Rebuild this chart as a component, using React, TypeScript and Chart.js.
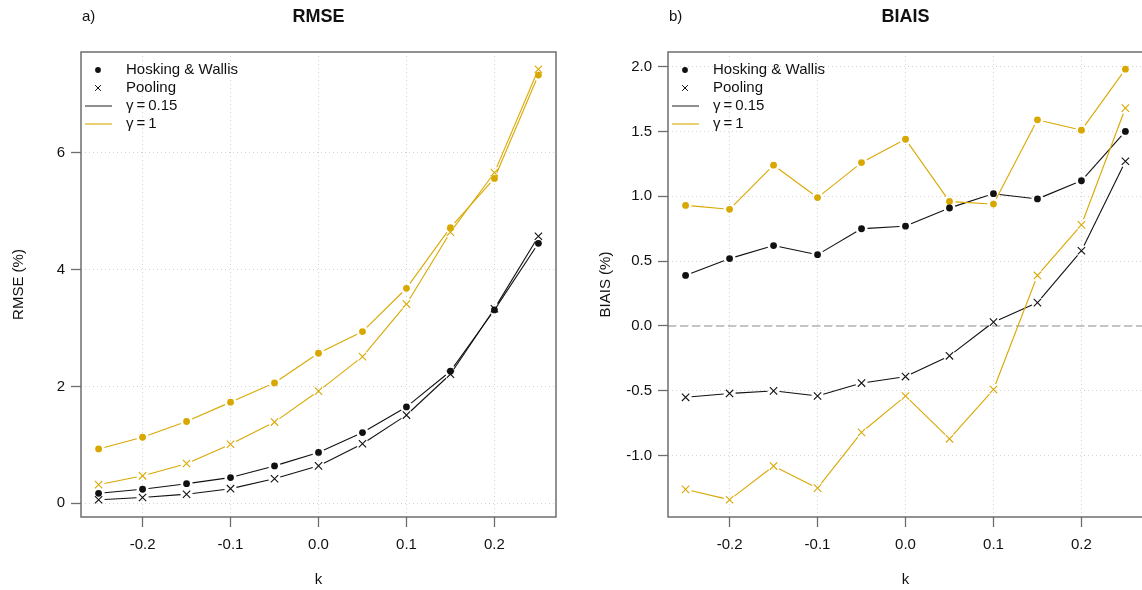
import React, { useEffect, useRef } from "react";
import { Chart, registerables } from "chart.js";

Chart.register(...registerables);

// ---------- data ----------
const kValues = [-0.25, -0.2, -0.15, -0.1, -0.05, 0, 0.05, 0.1, 0.15, 0.2, 0.25];
const kTicks = [-0.2, -0.1, 0, 0.1, 0.2];

const rmseHW015 = [0.17, 0.24, 0.335, 0.44, 0.64, 0.87, 1.21, 1.65, 2.26, 3.31, 4.45];
const rmsePool015 = [0.06, 0.1, 0.155, 0.25, 0.42, 0.64, 1.02, 1.51, 2.21, 3.33, 4.57];
const rmseHW1 = [0.93, 1.13, 1.4, 1.73, 2.06, 2.57, 2.94, 3.68, 4.72, 5.56, 7.33];
const rmsePool1 = [0.32, 0.47, 0.68, 1.01, 1.39, 1.92, 2.51, 3.41, 4.64, 5.66, 7.43];

const biasHW015 = [0.39, 0.52, 0.62, 0.55, 0.75, 0.77, 0.91, 1.02, 0.98, 1.12, 1.5];
const biasPool015 = [-0.55, -0.52, -0.5, -0.54, -0.44, -0.39, -0.23, 0.03, 0.18, 0.58, 1.27];
const biasHW1 = [0.93, 0.9, 1.24, 0.99, 1.26, 1.44, 0.96, 0.94, 1.59, 1.51, 1.98];
const biasPool1 = [-1.26, -1.34, -1.08, -1.25, -0.82, -0.54, -0.87, -0.49, 0.39, 0.78, 1.68];

const rmseTicks = [0, 2, 4, 6];
const biasTicks = [-1, -0.5, 0, 0.5, 1, 1.5, 2];

const legendLabels = ["Hosking & Wallis", "Pooling", "\u03b3\u2009=\u20090.15", "\u03b3\u2009=\u20091"];

const BLACK = "#111111";
const GOLD = "#D9A800";
const FRAME = "#6e6e6e";
const FONT = "'Liberation Sans', Arial, Helvetica, sans-serif";
const GAP = 6;

function pts(ys: number[]) {
  return kValues.map((x, i) => ({ x, y: ys[i] }));
}

function range(arrs: number[][]) {
  const all = arrs.flat();
  const mn = Math.min(...all);
  const mx = Math.max(...all);
  const pad = (mx - mn) * 0.04;
  return [mn - pad, mx + pad];
}

type PanelCfg = {
  letter: string;
  title: string;
  yTitle: string;
  series: number[][]; // HW015, Pool015, HW1, Pool1
  yTicks: number[];
  yFmt: (v: number) => string;
  zeroLine: boolean;
};

function makeChart(canvas: HTMLCanvasElement, cfg: PanelCfg) {
  const [ymin, ymax] = range(cfg.series);
  const xpad = (kValues[kValues.length - 1] - kValues[0]) * 0.04;

  const mk = (label: string, ys: number[], color: string, style: string) => ({
    label,
    data: pts(ys),
    showLine: false,
    lineColor: color,
    pointStyle: style,
    pointRadius: style === "circle" ? 3.4 : 5.2,
    pointBackgroundColor: style === "circle" ? color : "transparent",
    pointBorderColor: color,
    pointBorderWidth: style === "circle" ? 0 : 1.1,
  });

  const datasets = [
    mk("HW 0.15", cfg.series[0], BLACK, "circle"),
    mk("Pool 0.15", cfg.series[1], BLACK, "crossRot"),
    mk("HW 1", cfg.series[2], GOLD, "circle"),
    mk("Pool 1", cfg.series[3], GOLD, "crossRot"),
  ];

  const zeroPlugin = {
    id: "zeroLine",
    beforeDatasetsDraw(chart: any) {
      if (!cfg.zeroLine) return;
      const { ctx, chartArea } = chart;
      const y = chart.scales.y.getPixelForValue(0);
      ctx.save();
      ctx.strokeStyle = "#c4c4c4";
      ctx.lineWidth = 2;
      ctx.setLineDash([8, 4]);
      ctx.beginPath();
      ctx.moveTo(chartArea.left, y);
      ctx.lineTo(chartArea.right, y);
      ctx.stroke();
      ctx.restore();
    },
  };

  const gapLines = {
    id: "gapLines",
    beforeDatasetsDraw(chart: any) {
      const { ctx } = chart;
      ctx.save();
      ctx.lineWidth = 1.1;
      chart.data.datasets.forEach((ds: any, i: number) => {
        const meta = chart.getDatasetMeta(i);
        const p = meta.data;
        ctx.strokeStyle = ds.lineColor;
        for (let j = 0; j < p.length - 1; j++) {
          const a = p[j];
          const b = p[j + 1];
          const dx = b.x - a.x;
          const dy = b.y - a.y;
          const d = Math.hypot(dx, dy);
          if (d <= 2 * GAP) continue;
          const ux = dx / d;
          const uy = dy / d;
          ctx.beginPath();
          ctx.moveTo(a.x + ux * GAP, a.y + uy * GAP);
          ctx.lineTo(b.x - ux * GAP, b.y - uy * GAP);
          ctx.stroke();
        }
      });
      ctx.restore();
    },
  };

  const frame = {
    id: "frameAndText",
    afterDatasetsDraw(chart: any) {
      const { ctx, chartArea } = chart;
      const { left, top, right, bottom } = chartArea;
      ctx.save();
      // box
      ctx.strokeStyle = FRAME;
      ctx.lineWidth = 1.5;
      ctx.strokeRect(left, top, right - left, bottom - top);
      // titles
      ctx.fillStyle = "#111";
      ctx.textBaseline = "middle";
      ctx.textAlign = "left";
      ctx.font = `15px ${FONT}`;
      ctx.fillText(cfg.letter, left + 1, 17);
      ctx.textAlign = "center";
      ctx.font = `bold 18px ${FONT}`;
      ctx.fillText(cfg.title, (left + right) / 2, 17);
      // legend
      const lx = left;
      const ly = top + 18;
      const rowH = 18;
      ctx.font = `15px ${FONT}`;
      ctx.textAlign = "left";
      ctx.fillStyle = "#111";
      legendLabels.forEach((lab, i) => {
        const y = ly + i * rowH;
        if (i === 0) {
          ctx.fillStyle = BLACK;
          ctx.beginPath();
          ctx.arc(lx + 17, y, 2.9, 0, Math.PI * 2);
          ctx.fill();
        } else if (i === 1) {
          ctx.strokeStyle = BLACK;
          ctx.lineWidth = 1;
          const r = 2.9;
          ctx.beginPath();
          ctx.moveTo(lx + 17 - r, y - r);
          ctx.lineTo(lx + 17 + r, y + r);
          ctx.moveTo(lx + 17 - r, y + r);
          ctx.lineTo(lx + 17 + r, y - r);
          ctx.stroke();
        } else {
          ctx.strokeStyle = i === 2 ? "#333" : GOLD;
          ctx.lineWidth = 1.1;
          ctx.beginPath();
          ctx.moveTo(lx + 4, y);
          ctx.lineTo(lx + 31, y);
          ctx.stroke();
        }
        ctx.fillStyle = "#111";
        ctx.fillText(lab, lx + 45, y);
      });
      ctx.restore();
    },
  };

  return new Chart(canvas, {
    type: "scatter",
    data: { datasets: datasets as any },
    options: {
      responsive: false,
      animation: false,
      events: [],
      layout: { padding: { top: 52, right: 15, left: 0, bottom: 0 } },
      plugins: {
        legend: { display: false },
        tooltip: { enabled: false },
        title: { display: false },
      },
      scales: {
        x: {
          type: "linear",
          min: kValues[0] - xpad,
          max: kValues[kValues.length - 1] + xpad,
          afterBuildTicks: (s: any) => {
            s.ticks = kTicks.map((v) => ({ value: v }));
          },
          afterFit: (s: any) => {
            s.height = 73;
          },
          grid: {
            color: "#d3d3d3",
            lineWidth: 1,
            tickColor: FRAME,
            tickLength: 10,
            tickWidth: 1.3,
          },
          border: { display: false, dash: [1, 3] },
          ticks: {
            padding: 9,
            color: "#111",
            font: { family: FONT, size: 15 },
            maxRotation: 0,
            callback: (v: any) => Number(v).toFixed(1),
          },
          title: {
            display: true,
            text: "k",
            color: "#111",
            font: { family: FONT, size: 15 },
            padding: { top: 0, bottom: 1 },
          },
        },
        y: {
          type: "linear",
          min: ymin,
          max: ymax,
          afterBuildTicks: (s: any) => {
            s.ticks = cfg.yTicks.map((v) => ({ value: v }));
          },
          afterFit: (s: any) => {
            s.width = 81;
          },
          grid: {
            color: "#d3d3d3",
            lineWidth: 1,
            tickColor: FRAME,
            tickLength: 10,
            tickWidth: 1.3,
          },
          border: { display: false, dash: [1, 3] },
          ticks: {
            padding: 6,
            color: "#111",
            font: { family: FONT, size: 15 },
            callback: (v: any) => cfg.yFmt(Number(v)),
          },
          title: {
            display: true,
            text: cfg.yTitle,
            color: "#111",
            font: { family: FONT, size: 15 },
            padding: { top: 10, bottom: 0 },
          },
        },
      },
    } as any,
    plugins: [zeroPlugin, gapLines, frame],
  });
}

function Panel({ cfg, left }: { cfg: PanelCfg; left: number }) {
  const ref = useRef<HTMLCanvasElement | null>(null);
  useEffect(() => {
    if (!ref.current) return;
    const chart = makeChart(ref.current, cfg);
    return () => chart.destroy();
  }, []);
  return (
    <canvas
      ref={ref}
      width={571}
      height={590}
      style={{ position: "absolute", left, top: 0, width: 571, height: 590 }}
    />
  );
}

const rmseCfg: PanelCfg = {
  letter: "a)",
  title: "RMSE",
  yTitle: "RMSE (%)",
  series: [rmseHW015, rmsePool015, rmseHW1, rmsePool1],
  yTicks: rmseTicks,
  yFmt: (v) => String(Math.round(v)),
  zeroLine: false,
};

const biasCfg: PanelCfg = {
  letter: "b)",
  title: "BIAIS",
  yTitle: "BIAIS (%)",
  series: [biasHW015, biasPool015, biasHW1, biasPool1],
  yTicks: biasTicks,
  yFmt: (v) => (Math.abs(v) < 1e-9 ? 0 : v).toFixed(1),
  zeroLine: true,
};

export default function App() {
  return (
    <div
      style={{
        position: "fixed",
        left: 0,
        top: 0,
        width: 1142,
        height: 590,
        overflow: "hidden",
        background: "#fff",
      }}
    >
      <Panel cfg={rmseCfg} left={0} />
      <Panel cfg={biasCfg} left={587} />
    </div>
  );
}
